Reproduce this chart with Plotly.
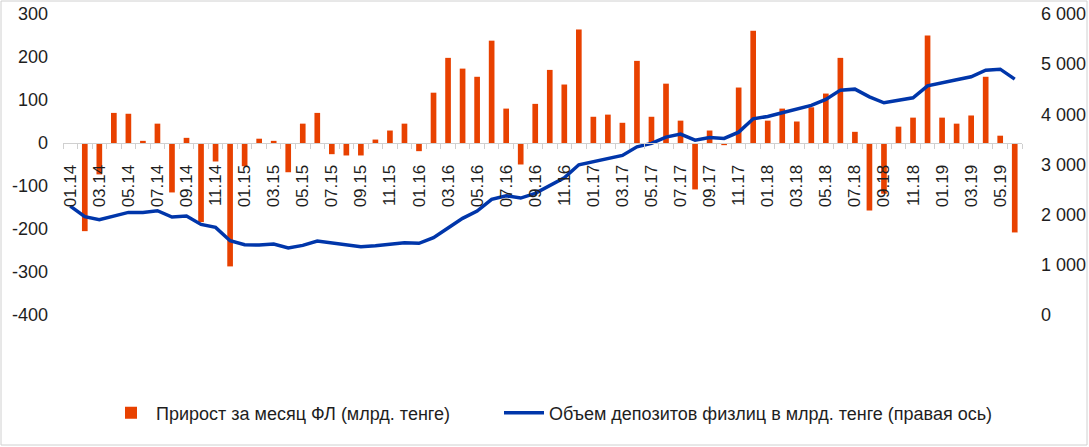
import plotly.graph_objects as go

months = [
    "01.14", "02.14", "03.14", "04.14", "05.14", "06.14", "07.14", "08.14", "09.14", "10.14", "11.14", "12.14",
    "01.15", "02.15", "03.15", "04.15", "05.15", "06.15", "07.15", "08.15", "09.15", "10.15", "11.15", "12.15",
    "01.16", "02.16", "03.16", "04.16", "05.16", "06.16", "07.16", "08.16", "09.16", "10.16", "11.16", "12.16",
    "01.17", "02.17", "03.17", "04.17", "05.17", "06.17", "07.17", "08.17", "09.17", "10.17", "11.17", "12.17",
    "01.18", "02.18", "03.18", "04.18", "05.18", "06.18", "07.18", "08.18", "09.18", "10.18", "11.18", "12.18",
    "01.19", "02.19", "03.19", "04.19", "05.19", "06.19",
]

growth = [
    None, -205, -73, 70, 68, 5, 45, -115, 12, -184, -43, -287,
    -54, 10, 5, -68, 45, 70, -26, -29, -29, 8, 29, 45,
    -19, 117, 198, 173, 154, 238, 80, -50, 91, 170, 136, 264,
    61, 66, 47, 191, 61, 138, 52, -108, 29, -5, 129, 261,
    52, 80, 50, 83, 115, 198, 26, -157, -118, 38, 59, 250,
    59, 45, 64, 154, 17, -208,
]

deposits = [
    2171, 1959, 1899, 1972, 2045, 2045, 2078, 1952, 1972, 1806, 1746, 1481,
    1401, 1394, 1414, 1335, 1388, 1474, 1441, 1401, 1361, 1381, 1408, 1441,
    1428, 1540, 1733, 1926, 2072, 2304, 2377, 2331, 2424, 2590, 2736, 2995,
    3054, 3114, 3181, 3353, 3420, 3546, 3606, 3486, 3539, 3519, 3645, 3911,
    3958, 4031, 4097, 4177, 4296, 4482, 4502, 4349, 4230, 4276, 4329, 4568,
    4635, 4688, 4748, 4880, 4900, 4701,
]

x_tick_labels = [m if i % 2 == 0 else "" for i, m in enumerate(months)]
left_ticks = [-400, -300, -200, -100, 0, 100, 200, 300]
left_tick_labels = ["-400", "-300", "-200", "-100", "0", "100", "200", "300"]
right_ticks = [0, 1000, 2000, 3000, 4000, 5000, 6000]
right_tick_labels = ["0", "1 000", "2 000", "3 000", "4 000", "5 000", "6 000"]

FONT = "Liberation Sans"
TXT = "#1e1e1e"

fig = go.Figure()
fig.add_trace(go.Bar(
    x=months, y=growth, name="Прирост за месяц ФЛ (млрд. тенге)",
    marker=dict(color="#E84100", line=dict(width=0)), yaxis="y", legend="legend",
))
fig.add_trace(go.Scatter(
    x=months, y=deposits, name="Объем депозитов физлиц в млрд. тенге (правая ось)",
    mode="lines", line=dict(color="#0036AA", width=3.5), yaxis="y2", legend="legend2",
))

W, H = 1089, 447
L, R, T, B = 63, 67, 14, 132
pw, ph = W - L - R, H - T - B
leg_y = (315 - 413) / ph

fig.update_layout(
    width=W, height=H,
    margin=dict(l=L, r=R, t=T, b=B, autoexpand=False),
    paper_bgcolor="white", plot_bgcolor="white",
    font=dict(family=FONT, size=17, color=TXT),
    bargap=0.61,
    showlegend=True,
    legend=dict(
        orientation="h", x=(106 - L) / pw, xanchor="left", y=leg_y, yanchor="middle",
        font=dict(size=18, color=TXT), itemwidth=40,
    ),
    legend2=dict(
        orientation="h", x=(499 - L) / pw, xanchor="left", y=leg_y, yanchor="middle",
        font=dict(size=18, color=TXT), itemwidth=40,
    ),
    xaxis=dict(
        type="category", anchor="free", position=400 / 700, automargin=False,
        tickmode="array", tickvals=months, ticktext=x_tick_labels,
        tickangle=-90, tickson="boundaries",
        ticks="outside", ticklen=5, tickcolor="#d0d0d0",
        showline=True, linecolor="#d0d0d0", linewidth=1,
        showgrid=False, zeroline=False, ticklabelstandoff=14,
        tickfont=dict(size=17, color=TXT),
        range=[-0.5, len(months) - 0.5],
    ),
    yaxis=dict(
        range=[-400, 300], tickmode="array", tickvals=left_ticks, ticktext=left_tick_labels,
        showgrid=False, zeroline=False, showline=False, ticks="", automargin=False,
        ticklabelstandoff=14, tickfont=dict(size=18, color=TXT),
    ),
    yaxis2=dict(
        range=[0, 6000], overlaying="y", side="right", anchor="x", automargin=False,
        tickmode="array", tickvals=right_ticks, ticktext=right_tick_labels,
        showgrid=False, zeroline=False, showline=False, ticks="",
        ticklabelstandoff=18, tickfont=dict(size=18, color=TXT),
    ),
    shapes=[dict(
        type="rect", xref="paper", yref="paper",
        x0=(1 - L) / pw, x1=(W - 2 - L) / pw,
        y0=(H - B - (H - 2)) / ph, y1=(H - B - 1) / ph,
        line=dict(color="#d0d0d0", width=1), fillcolor="rgba(0,0,0,0)", layer="below",
    )],
)

fig.write_html("out.html")
